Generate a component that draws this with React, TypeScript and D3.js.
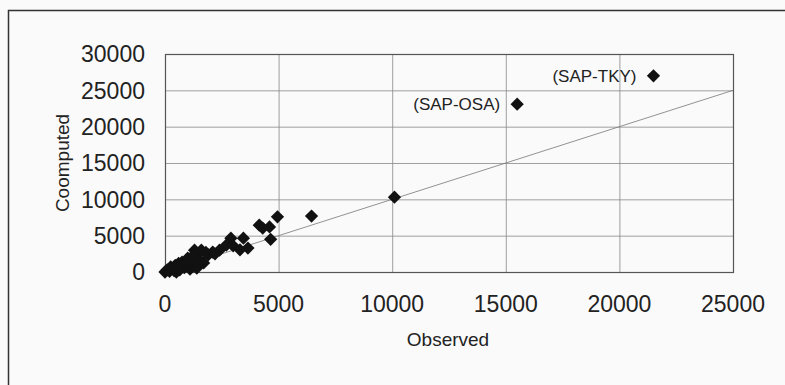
import React, { useEffect, useRef } from 'react'
import * as d3 from 'd3'

// observed vs computed pairs
const observed = [0, 100, 200, 300, 400, 450, 550, 650, 750, 850, 900, 1000, 1100, 1200, 1300, 1400, 1450, 1600, 1700, 1900, 2100, 2400, 2700, 2900, 3000, 3300, 3450, 3650, 4150, 4300, 4600, 4650, 4950, 6450, 10100, 15500, 21500, 250, 600, 1050, 1250, 1800, 2200, 500]
const computed = [0, 300, 100, 500, 200, 900, 550, 300, 1350, 600, 1000, 1900, 400, 950, 3000, 550, 1900, 3000, 1250, 2350, 2750, 3000, 3700, 4650, 3600, 3050, 4650, 3300, 6450, 6050, 6200, 4500, 7600, 7700, 10300, 23100, 27000, 700, 1200, 1500, 2300, 2700, 2500, 0]

const labelNames = ['(SAP-OSA)', '(SAP-TKY)']
const labelObserved = [15500, 21500]
const labelComputed = [23100, 27000]

const xTicks = [0, 5000, 10000, 15000, 20000, 25000]
const yTicks = [0, 5000, 10000, 15000, 20000, 25000, 30000]

const width = 785, height = 385
const margin = { top: 54, right: 52, bottom: 113, left: 165 }
const font = '"Liberation Sans", Arial, sans-serif'

export default function App() {
    const ref = useRef<SVGSVGElement>(null)

    useEffect(() => {
        const svg = d3.select(ref.current)
        svg.selectAll('*').remove()

        const x = d3.scaleLinear().domain([0, 25000]).range([margin.left, width - margin.right])
        const y = d3.scaleLinear().domain([0, 30000]).range([height - margin.bottom, margin.top])

        svg.append('rect').attr('width', width).attr('height', height).attr('fill', '#fafafa')

        // outer frame (runs off the right and bottom of the picture)
        svg.append('path')
            .attr('d', `M8.5,${height}V10.5H${width}`)
            .attr('fill', 'none')
            .attr('stroke', '#333')
            .attr('stroke-width', 1.5)

        // grid
        svg.append('g')
            .selectAll('line')
            .data(xTicks.slice(1, -1))
            .join('line')
            .attr('x1', d => x(d) + 0.5).attr('x2', d => x(d) + 0.5)
            .attr('y1', y(30000)).attr('y2', y(0))
            .attr('stroke', '#888').attr('stroke-width', 0.8)

        svg.append('g')
            .selectAll('line')
            .data(yTicks.slice(1, -1))
            .join('line')
            .attr('x1', x(0)).attr('x2', x(25000))
            .attr('y1', d => y(d) + 0.5).attr('y2', d => y(d) + 0.5)
            .attr('stroke', '#888').attr('stroke-width', 0.8)

        svg.append('rect')
            .attr('x', x(0) + 0.5).attr('y', y(30000) + 0.5)
            .attr('width', x(25000) - x(0)).attr('height', y(0) - y(30000))
            .attr('fill', 'none')
            .attr('stroke', '#555').attr('stroke-width', 1.2)

        // y = x reference line
        svg.append('line')
            .attr('x1', x(0)).attr('y1', y(0))
            .attr('x2', x(25000)).attr('y2', y(25000))
            .attr('stroke', '#777').attr('stroke-width', 0.8)

        // tick labels
        svg.append('g')
            .selectAll('text')
            .data(xTicks)
            .join('text')
            .attr('x', d => x(d))
            .attr('y', height - margin.bottom + 40)
            .attr('text-anchor', 'middle')
            .style('font-family', font).style('font-size', '23px').attr('fill', '#222')
            .text(d => d)

        svg.append('g')
            .selectAll('text')
            .data(yTicks)
            .join('text')
            .attr('x', x(0) - 20)
            .attr('y', d => y(d))
            .attr('dy', '0.36em')
            .attr('text-anchor', 'end')
            .style('font-family', font).style('font-size', '23px').attr('fill', '#222')
            .text(d => d)

        // axis titles
        svg.append('text')
            .attr('x', 448).attr('y', 346)
            .attr('text-anchor', 'middle')
            .style('font-family', font).style('font-size', '19px').attr('fill', '#222')
            .text('Observed')

        svg.append('text')
            .attr('transform', `translate(69,${(y(0) + y(30000)) / 2}) rotate(-90)`)
            .attr('text-anchor', 'middle')
            .style('font-family', font).style('font-size', '19px').attr('fill', '#222')
            .text('Coomputed')

        // points
        const diamond = d3.symbol().type(d3.symbolSquare).size(88)
        svg.append('g')
            .selectAll('path')
            .data(observed.map((o, i) => [o, computed[i]]))
            .join('path')
            .attr('d', diamond)
            .attr('transform', d => `translate(${x(d[0])},${y(d[1])}) rotate(45)`)
            .attr('fill', '#111')

        svg.append('g')
            .selectAll('text')
            .data(labelNames)
            .join('text')
            .attr('x', (d, i) => x(labelObserved[i]) - 17)
            .attr('y', (d, i) => y(labelComputed[i]))
            .attr('dy', '0.36em')
            .attr('text-anchor', 'end')
            .style('font-family', font).style('font-size', '17px').attr('fill', '#222')
            .text(d => d)
    }, [])

    return (
        <svg ref={ref} width={width} height={height}
            style={{ position: 'absolute', left: 0, top: 0, display: 'block' }} />
    )
}
